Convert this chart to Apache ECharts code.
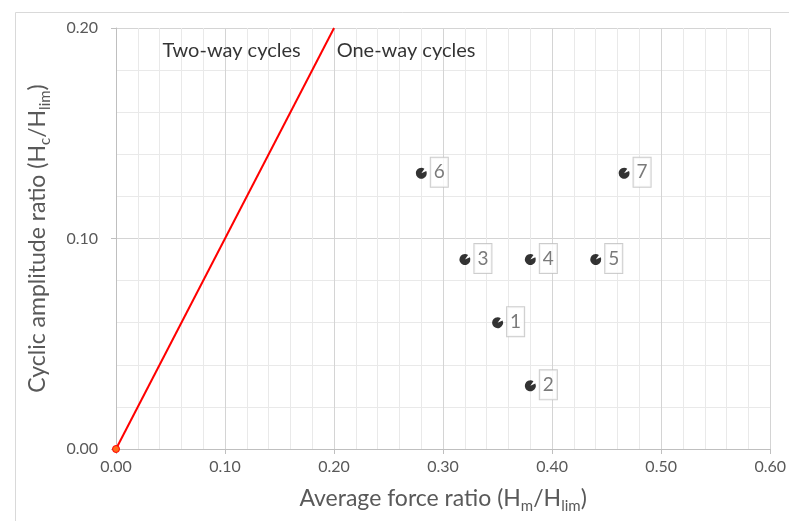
<!DOCTYPE html>
<html>
<head>
<meta charset="utf-8">
<script src="https://cdn.jsdelivr.net/npm/echarts@6/dist/echarts.min.js"></script>
<style>html,body{margin:0;padding:0;background:#fff;}#c{width:789px;height:521px;}</style>
</head>
<body>
<div id="c"></div>
<script>
// ---- data ----
const pointX = [0.35, 0.38, 0.32, 0.38, 0.44, 0.28, 0.466];
const pointY = [0.06, 0.03, 0.09, 0.09, 0.09, 0.131, 0.131];
const pointLabels = ['1', '2', '3', '4', '5', '6', '7'];
const boundaryX = [0, 0.2];
const boundaryY = [0, 0.2];
const regionNames = ['Two-way cycles', 'One-way cycles'];
const regionX = [0.106, 0.266];
const regionY = [0.1895, 0.1895];
const xMin = 0, xMax = 0.6, xStep = 0.1;
const yMin = 0, yMax = 0.2, yStep = 0.1;

const FONT = 'Lato';
const pac = 'path://M10 10 L19.06 5.77 A10 10 0 1 1 15.74 1.81 Z';

const chart = echarts.init(document.getElementById('c'), null, {renderer: 'canvas'});
const titleRich = {
  a: {fontFamily: FONT, fontSize: 23, color: '#595959'},
  s: {fontFamily: FONT, fontSize: 15, color: '#595959', padding: [15, 0, 0, 0]}
};
const option = {
  backgroundColor: '#fff',
  animation: false,
  textStyle: {fontFamily: FONT},
  graphic: [{
    type: 'rect', left: 13, top: 10, silent: true,
    shape: {width: 800, height: 540},
    style: {fill: 'none', stroke: '#d9d9d9', lineWidth: 1}
  }],
  grid: {left: 116, right: 15, top: 28, bottom: 72, containLabel: false},
  xAxis: {
    type: 'value', min: xMin, max: xMax, interval: xStep,
    name: '{a|Average force ratio (H}{s|m}{a|/H}{s|lim}{a|)}',
    nameLocation: 'middle', nameGap: 35,
    nameTextStyle: {rich: titleRich},
    axisLine: {show: true, lineStyle: {color: '#bfbfbf', width: 1}},
    axisTick: {show: true, length: 5, lineStyle: {color: '#bfbfbf'}},
    axisLabel: {color: '#595959', fontSize: 16, fontFamily: FONT, margin: 10,
      formatter: v => v.toFixed(2)},
    splitLine: {show: true, lineStyle: {color: '#d4d4d4', width: 1}},
    minorTick: {show: false, splitNumber: 5},
    minorSplitLine: {show: true, lineStyle: {color: '#e9e9e9', width: 1}}
  },
  yAxis: {
    type: 'value', min: yMin, max: yMax, interval: yStep,
    name: '{a|Cyclic amplitude ratio (H}{s|c}{a|/H}{s|lim}{a|)}',
    nameLocation: 'middle', nameGap: 63, nameRotate: 90,
    nameTextStyle: {rich: titleRich},
    axisLine: {show: true, lineStyle: {color: '#bfbfbf', width: 1}},
    axisTick: {show: true, length: 5, lineStyle: {color: '#bfbfbf'}},
    axisLabel: {color: '#595959', fontSize: 16, fontFamily: FONT, margin: 18,
      formatter: v => v.toFixed(2)},
    splitLine: {show: true, lineStyle: {color: '#d4d4d4', width: 1}},
    minorTick: {show: false, splitNumber: 5},
    minorSplitLine: {show: true, lineStyle: {color: '#e9e9e9', width: 1}}
  },
  series: [
    {
      type: 'line',
      data: boundaryX.map((x, i) => [x, boundaryY[i]]),
      lineStyle: {color: '#ff0000', width: 2},
      symbol: 'circle',
      symbolSize: (v, p) => p.dataIndex === 0 ? 7 : 0,
      itemStyle: {color: '#ff6a1a', borderColor: '#ff0000', borderWidth: 1},
      z: 3
    },
    {
      type: 'scatter',
      data: pointX.map((x, i) => ({value: [x, pointY[i]], name: pointLabels[i]})),
      symbol: pac,
      symbolSize: 11,
      itemStyle: {color: '#000'},
      label: {
        show: true, position: 'right', distance: 4,
        formatter: p => p.name,
        color: '#595959', fontSize: 19, fontFamily: FONT,
        borderColor: '#bfbfbf', borderWidth: 1, backgroundColor: '#fff',
        padding: [6, 3, 4, 3], offset: [0, -1]
      },
      z: 4
    },
    {
      type: 'scatter',
      data: regionX.map((x, i) => ({value: [x, regionY[i]], name: regionNames[i]})),
      symbolSize: 0,
      label: {show: true, position: 'inside', formatter: p => p.name,
        color: '#000', fontSize: 20, fontFamily: FONT},
      silent: true,
      z: 5
    }
  ]
};
chart.setOption(option);
</script>
</body>
</html>
